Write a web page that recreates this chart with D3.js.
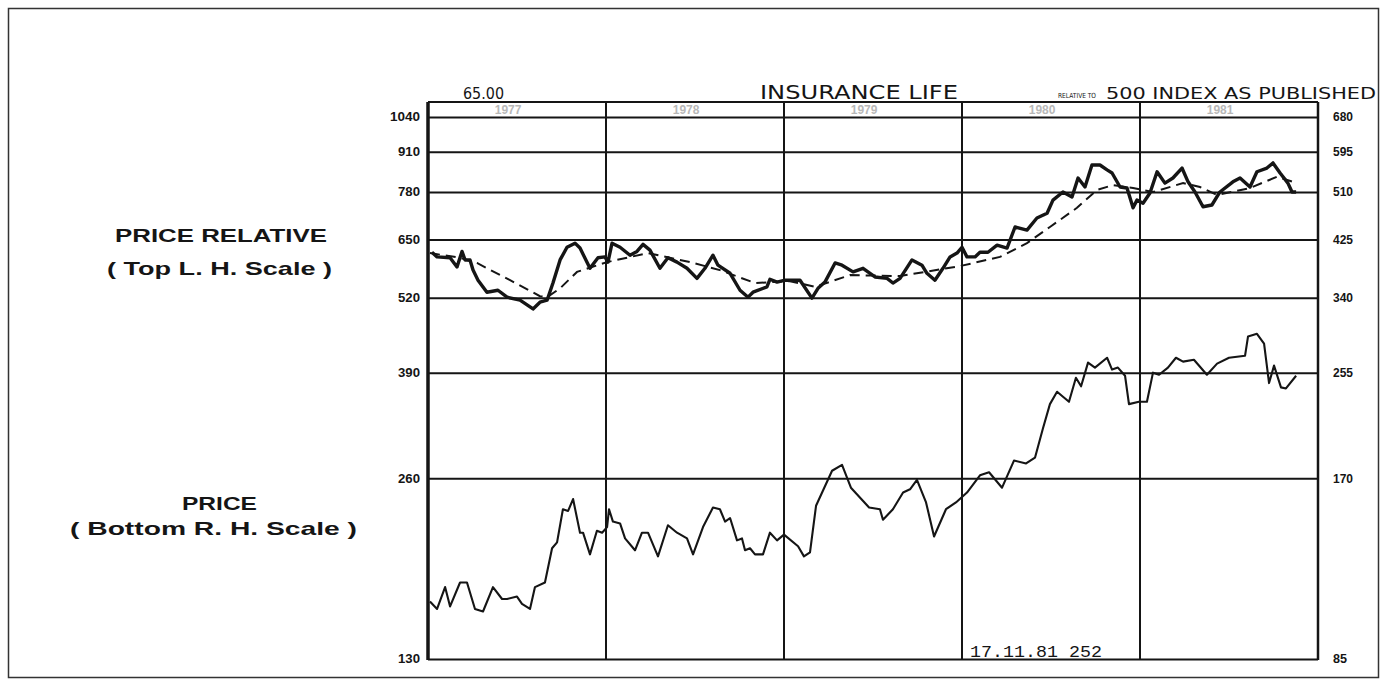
<!DOCTYPE html>
<html>
<head>
<meta charset="utf-8">
<title>Insurance Life</title>
<script src="https://cdn.jsdelivr.net/npm/d3@7"></script>
<style>
  body { margin: 0; background: #fff; }
  svg { display: block; }
</style>
</head>
<body>
<div id="chart"></div>
<script>
// year dividers along the top
const years = [1977, 1978, 1979, 1980, 1981];
// top left-hand scale (price relative) and bottom right-hand scale (price)
const leftTicks = [130, 260, 390, 520, 650, 780, 910, 1040];
const rightTicks = [85, 170, 255, 340, 425, 510, 595, 680];

// price relative, thick line (decimal years)
const relYears = [1977.022, 1977.051, 1977.124, 1977.163, 1977.191, 1977.208, 1977.236, 1977.253, 1977.281, 1977.331,
  1977.393, 1977.444, 1977.517, 1977.590, 1977.629, 1977.669, 1977.702, 1977.742, 1977.781, 1977.826,
  1977.854, 1977.910, 1977.955, 1977.994, 1978.011, 1978.034, 1978.079, 1978.135, 1978.174, 1978.208,
  1978.247, 1978.303, 1978.348, 1978.399, 1978.455, 1978.511, 1978.556, 1978.601, 1978.629, 1978.697,
  1978.753, 1978.798, 1978.826, 1978.904, 1978.921, 1978.961, 1979.006, 1979.090, 1979.157, 1979.191,
  1979.230, 1979.287, 1979.326, 1979.388, 1979.444, 1979.511, 1979.579, 1979.612, 1979.652, 1979.719,
  1979.775, 1979.803, 1979.848, 1979.893, 1979.933, 1979.972, 1980.000, 1980.028, 1980.073, 1980.101,
  1980.146, 1980.197, 1980.253, 1980.298, 1980.365, 1980.421, 1980.478, 1980.511, 1980.567, 1980.618,
  1980.652, 1980.691, 1980.730, 1980.775, 1980.815, 1980.843, 1980.888, 1980.927, 1980.961, 1980.983,
  1981.017, 1981.056, 1981.096, 1981.140, 1981.185, 1981.236, 1981.270, 1981.309, 1981.354, 1981.404,
  1981.449, 1981.522, 1981.562, 1981.618, 1981.657, 1981.713, 1981.747, 1981.787, 1981.831, 1981.854, 1981.877];
const relValues = [619, 608, 606, 585, 621, 601, 601, 578, 556, 531,
  535, 521, 515, 498, 511, 515, 550, 601, 631, 641,
  629, 582, 606, 608, 596, 641, 631, 612, 621, 638,
  624, 582, 606, 596, 582, 560, 582, 612, 589, 571,
  535, 521, 531, 542, 558, 552, 556, 556, 519, 539,
  552, 594, 589, 574, 582, 563, 560, 550, 560, 601,
  589, 571, 556, 582, 608, 617, 631, 608, 608, 619,
  619, 636, 629, 682, 674, 706, 719, 756, 780, 765,
  823, 795, 865, 865, 849, 839, 795, 792, 734, 756,
  747, 777, 843, 807, 823, 855, 811, 780, 737, 742,
  780, 811, 823, 795, 843, 855, 872, 839, 807, 780, 780];

// moving average of the price relative, dashed
const avgYears = [1977.011, 1977.180, 1977.275, 1977.461, 1977.629, 1977.669, 1977.742, 1977.837, 1978.006, 1978.236,
  1978.472, 1978.640, 1978.837, 1979.034, 1979.174, 1979.371, 1979.652, 1979.989, 1980.213, 1980.365,
  1980.494, 1980.646, 1980.758, 1980.848, 1980.961, 1981.073, 1981.242, 1981.337, 1981.433, 1981.618,
  1981.770, 1981.860];
const avgValues = [617, 606, 594, 556, 523, 521, 539, 574, 596, 617,
  596, 578, 550, 554, 542, 567, 565, 587, 608, 641,
  682, 734, 786, 801, 792, 780, 807, 795, 771, 792,
  827, 811];

// share price, thin line
const priceYears = [1977.011, 1977.051, 1977.096, 1977.124, 1977.180, 1977.219, 1977.264, 1977.309, 1977.365, 1977.416,
  1977.444, 1977.500, 1977.528, 1977.573, 1977.601, 1977.657, 1977.697, 1977.725, 1977.758, 1977.787,
  1977.815, 1977.854, 1977.871, 1977.910, 1977.949, 1977.978, 1978.006, 1978.017, 1978.039, 1978.079,
  1978.107, 1978.163, 1978.202, 1978.236, 1978.292, 1978.348, 1978.399, 1978.455, 1978.489, 1978.545,
  1978.601, 1978.640, 1978.669, 1978.697, 1978.736, 1978.764, 1978.781, 1978.809, 1978.837, 1978.882,
  1978.921, 1978.961, 1979.000, 1979.079, 1979.112, 1979.146, 1979.180, 1979.270, 1979.326, 1979.376,
  1979.478, 1979.539, 1979.556, 1979.612, 1979.669, 1979.708, 1979.747, 1979.798, 1979.843, 1979.910,
  1979.966, 1980.028, 1980.101, 1980.152, 1980.225, 1980.292, 1980.360, 1980.410, 1980.455, 1980.494,
  1980.534, 1980.601, 1980.640, 1980.669, 1980.708, 1980.747, 1980.815, 1980.843, 1980.876, 1980.916,
  1980.938, 1980.994, 1981.039, 1981.073, 1981.107, 1981.157, 1981.202, 1981.242, 1981.303, 1981.376,
  1981.433, 1981.500, 1981.590, 1981.607, 1981.657, 1981.697, 1981.725, 1981.753, 1981.792, 1981.820, 1981.877];
const priceValues = [106, 103, 112, 104, 114, 114, 103, 102, 112, 107,
  107, 108, 105, 103, 112, 114, 130, 133, 151, 150,
  157, 138, 138, 127, 139, 138, 141, 151, 144, 143,
  135, 129, 138, 138, 126, 142, 138, 135, 127, 141,
  152, 151, 144, 146, 134, 135, 129, 130, 127, 127,
  138, 134, 137, 131, 126, 128, 153, 175, 179, 164,
  152, 151, 145, 151, 161, 163, 169, 155, 136, 151,
  155, 161, 172, 174, 164, 182, 180, 184, 206, 226,
  237, 228, 250, 242, 265, 260, 270, 258, 260, 252,
  226, 228, 228, 255, 253, 260, 270, 266, 268, 253,
  264, 270, 272, 293, 296, 285, 245, 262, 241, 240, 252];

const ink = "#151515";

const drawChart = () => {
  const width = 1384, height = 686;
  const left = 428, right = 1318, top = 117, bottom = 659, stripTop = 102;

  const svg = d3.select("#chart").append("svg")
    .attr("width", width)
    .attr("height", height);

  svg.append("rect")
    .attr("width", width).attr("height", height)
    .attr("fill", "#fff");

  // outer border of the sheet
  svg.append("rect")
    .attr("x", 8.5).attr("y", 8.5)
    .attr("width", 1370).attr("height", 669)
    .attr("fill", "none")
    .attr("stroke", "#333")
    .attr("stroke-width", 1.5);

  const x = d3.scaleLinear().domain([1977, 1982]).range([left, right]);
  const yLeft = d3.scaleLog().domain([130, 1040]).range([bottom, top]);
  const yRight = d3.scaleLog().domain([85, 680]).range([bottom, top]);

  // left scale with the horizontal grid
  const gLeft = svg.append("g")
    .attr("transform", `translate(${left},0)`)
    .call(d3.axisLeft(yLeft)
      .tickValues(leftTicks)
      .tickFormat(d3.format("d"))
      .tickSize(-(right - left))
      .tickPadding(8));
  gLeft.select(".domain").remove();
  gLeft.selectAll(".tick line")
    .attr("stroke", ink)
    .attr("stroke-width", 2);
  gLeft.selectAll(".tick text")
    .attr("fill", ink)
    .style("font-family", "'Liberation Sans', Arial, sans-serif")
    .style("font-weight", "bold")
    .style("font-size", "12px")
    .attr("textLength", d => d >= 1000 ? 30 : 22)
    .attr("lengthAdjust", "spacingAndGlyphs");

  // right scale, labels only
  const gRight = svg.append("g")
    .attr("transform", `translate(${right},0)`)
    .call(d3.axisRight(yRight)
      .tickValues(rightTicks)
      .tickFormat(d3.format("d"))
      .tickSize(0)
      .tickPadding(15));
  gRight.select(".domain").remove();
  gRight.selectAll(".tick text")
    .attr("fill", ink)
    .style("font-family", "'Liberation Sans', Arial, sans-serif")
    .style("font-weight", "bold")
    .style("font-size", "12px")
    .attr("textLength", d => d < 100 ? 14 : 20)
    .attr("lengthAdjust", "spacingAndGlyphs");

  // year dividers run up through the header strip
  svg.append("g").selectAll("line")
    .data(years.slice(1))
    .join("line")
    .attr("x1", d => x(d)).attr("x2", d => x(d))
    .attr("y1", stripTop).attr("y2", bottom)
    .attr("stroke", ink)
    .attr("stroke-width", 2);

  // header strip top and plot sides
  svg.append("line")
    .attr("x1", left).attr("x2", right)
    .attr("y1", stripTop).attr("y2", stripTop)
    .attr("stroke", ink).attr("stroke-width", 2);
  svg.append("line")
    .attr("x1", left).attr("x2", left)
    .attr("y1", stripTop).attr("y2", bottom + 1)
    .attr("stroke", ink).attr("stroke-width", 3.5);
  svg.append("line")
    .attr("x1", right).attr("x2", right)
    .attr("y1", stripTop).attr("y2", bottom + 1)
    .attr("stroke", ink).attr("stroke-width", 2.5);

  // faint year names in the strip
  svg.append("g").selectAll("text")
    .data(years)
    .join("text")
    .attr("x", d => x(d + 0.45))
    .attr("y", 114)
    .attr("text-anchor", "middle")
    .attr("fill", "#b8b8b8")
    .style("font-family", "'Liberation Sans', Arial, sans-serif")
    .style("font-weight", "bold")
    .style("font-size", "12px")
    .text(d => d);

  // the three series
  const relLine = d3.line().x(d => x(d[0])).y(d => yLeft(d[1]));
  const priceLine = d3.line().x(d => x(d[0])).y(d => yRight(d[1]));

  svg.append("path")
    .datum(d3.zip(avgYears, avgValues))
    .attr("d", relLine)
    .attr("fill", "none")
    .attr("stroke", ink)
    .attr("stroke-width", 2)
    .attr("stroke-dasharray", "10,6");

  svg.append("path")
    .datum(d3.zip(relYears, relValues))
    .attr("d", relLine)
    .attr("fill", "none")
    .attr("stroke", ink)
    .attr("stroke-width", 3.4)
    .attr("stroke-linejoin", "round");

  svg.append("path")
    .datum(d3.zip(priceYears, priceValues))
    .attr("d", priceLine)
    .attr("fill", "none")
    .attr("stroke", ink)
    .attr("stroke-width", 2.1)
    .attr("stroke-linejoin", "round");

  // header texts
  const label = (txt, x0, y0, size, len, opts = {}) => {
    const t = svg.append("text")
      .attr("x", x0).attr("y", y0)
      .attr("fill", ink)
      .style("font-family", opts.family || "'Liberation Sans', Arial, sans-serif")
      .style("font-weight", opts.weight || "bold")
      .style("font-size", size + "px")
      .attr("textLength", len)
      .attr("lengthAdjust", "spacingAndGlyphs")
      .text(txt);
    return t;
  };

  label("65.00", 463, 99, 16, 41, { weight: "normal", family: "'DejaVu Sans', sans-serif" });
  label("INSURANCE LIFE", 760, 99, 20, 198, { weight: "normal", family: "'DejaVu Sans', sans-serif" });
  label("RELATIVE TO", 1058, 98, 7, 38, { weight: "normal", family: "'DejaVu Sans', sans-serif" });
  label("500  INDEX AS PUBLISHED", 1106, 99, 15, 270, { weight: "normal", family: "'DejaVu Sans', sans-serif" });

  // side captions
  label("PRICE RELATIVE", 115, 242, 19, 212);
  label("( Top L. H. Scale )", 107, 275, 19, 225);
  label("PRICE", 182, 510, 19, 75);
  label("( Bottom R. H. Scale )", 70, 535, 19, 287);

  // last date and price
  label("17.11.81 252", 970, 657, 17, 132, { weight: "normal", family: "'Liberation Mono', 'DejaVu Sans Mono', monospace" });
};

drawChart();
</script>
</body>
</html>
